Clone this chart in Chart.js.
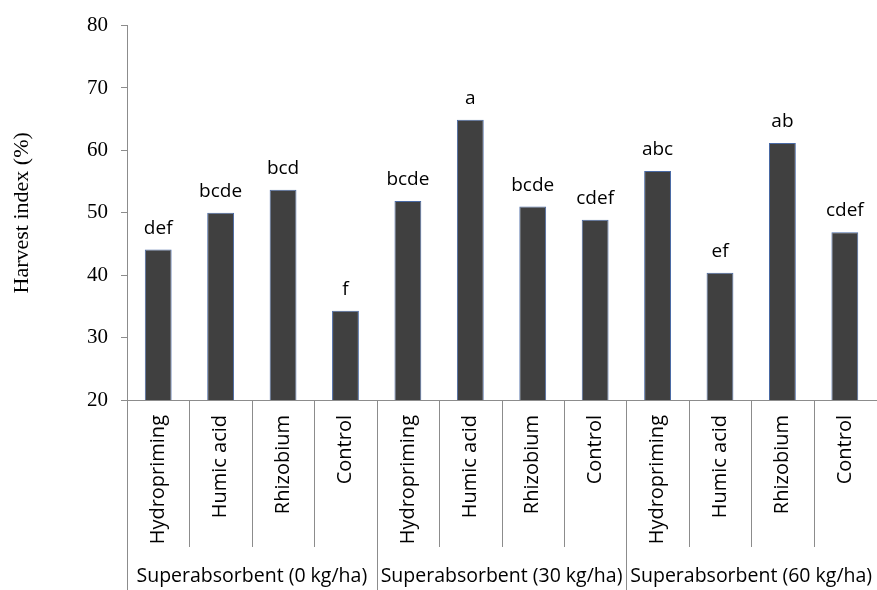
<!DOCTYPE html>
<html>
<head>
<meta charset="utf-8">
<script src="https://cdn.jsdelivr.net/npm/chart.js@4.4.1/dist/chart.umd.min.js"></script>
<style>
  html, body { margin: 0; padding: 0; background: #fff; overflow: hidden; }
  #wrap { width: 884px; height: 590px; }
</style>
</head>
<body>
<div id="wrap"><canvas id="c" width="884" height="590"></canvas></div>
<script>
// Treatments within each superabsorbent level
const treatments = ['Hydropriming', 'Humic acid', 'Rhizobium', 'Control'];
const groups = ['Superabsorbent (0 kg/ha)', 'Superabsorbent (30 kg/ha)', 'Superabsorbent (60 kg/ha)'];
const categories = [...treatments, ...treatments, ...treatments];

// Harvest index (%) per treatment
const harvestIndex = [44.1, 50.0, 53.7, 34.3, 51.9, 64.9, 51.0, 48.9, 56.7, 40.4, 61.2, 46.9];

// Mean separation letters
const letters = ['def', 'bcde', 'bcd', 'f', 'bcde', 'a', 'bcde', 'cdef', 'abc', 'ef', 'ab', 'cdef'];

const yTicks = [20, 30, 40, 50, 60, 70, 80];

const sansFont = "'Open Sans', 'Liberation Sans', sans-serif";
const serifFont = "'Liberation Serif', 'DejaVu Serif', serif";
const axisGray = '#8c8c8c';

const groupAxisPlugin = {
  id: 'groupAxis',
  afterDraw(chart) {
    const { ctx, scales: { x, y }, chartArea } = chart;
    const n = categories.length;
    const bottom = chart.height;
    ctx.save();
    // separators between category labels and between groups
    ctx.strokeStyle = axisGray;
    ctx.lineWidth = 1;
    for (let i = 0; i < n; i++) {
      const px = Math.round(x.getPixelForValue(i - 0.5)) + 0.5;
      const isGroupEdge = i % treatments.length === 0;
      ctx.beginPath();
      ctx.moveTo(px, chartArea.bottom);
      ctx.lineTo(px, isGroupEdge ? bottom : chartArea.bottom + 147);
      ctx.stroke();
    }
    // group captions
    ctx.fillStyle = '#000';
    ctx.font = "19.5px " + sansFont;
    ctx.textAlign = 'center';
    ctx.textBaseline = 'middle';
    groups.forEach((g, gi) => {
      const a = x.getPixelForValue(gi * treatments.length - 0.5);
      const b = x.getPixelForValue((gi + 1) * treatments.length - 0.5);
      ctx.fillText(g, (a + b) / 2, chartArea.bottom + 176);
    });
    // letters above bars
    const meta = chart.getDatasetMeta(0);
    ctx.font = "19px " + sansFont;
    ctx.textBaseline = 'alphabetic';
    meta.data.forEach((bar, i) => {
      ctx.fillText(letters[i], bar.x, y.getPixelForValue(harvestIndex[i]) - 16);
    });
    ctx.restore();
  }
};

new Chart(document.getElementById('c'), {
  type: 'bar',
  data: {
    labels: categories,
    datasets: [{
      data: harvestIndex,
      backgroundColor: '#404040',
      borderColor: '#4a6aa5',
      borderWidth: 1,
      barPercentage: 0.86,
      categoryPercentage: 0.5
    }]
  },
  options: {
    responsive: false,
    animation: false,
    events: [],
    layout: { padding: { top: 24, right: 4, left: 0, bottom: 0 } },
    plugins: { legend: { display: false }, tooltip: { enabled: false } },
    scales: {
      x: {
        offset: true,
        grid: { display: false, drawTicks: false },
        border: { display: true, color: axisGray, width: 1 },
        ticks: {
          minRotation: 90,
          maxRotation: 90,
          autoSkip: false,
          padding: 15,
          color: '#000',
          font: { family: sansFont, size: 20 }
        },
        afterFit(scale) { scale.height = 190; }
      },
      y: {
        min: 20,
        max: 80,
        afterBuildTicks(scale) { scale.ticks = yTicks.map(v => ({ value: v })); },
        grid: { display: true, drawOnChartArea: false, drawTicks: true, tickLength: 6, color: axisGray },
        border: { display: true, color: axisGray, width: 1 },
        ticks: {
          padding: 13,
          color: '#000',
          font: { family: serifFont, size: 21 }
        },
        title: {
          display: true,
          text: 'Harvest index (%)',
          color: '#000',
          font: { family: serifFont, size: 22 },
          padding: { top: 9, bottom: 0 }
        },
        afterFit(scale) { scale.width = 127; }
      }
    }
  },
  plugins: [groupAxisPlugin]
});
</script>
</body>
</html>
